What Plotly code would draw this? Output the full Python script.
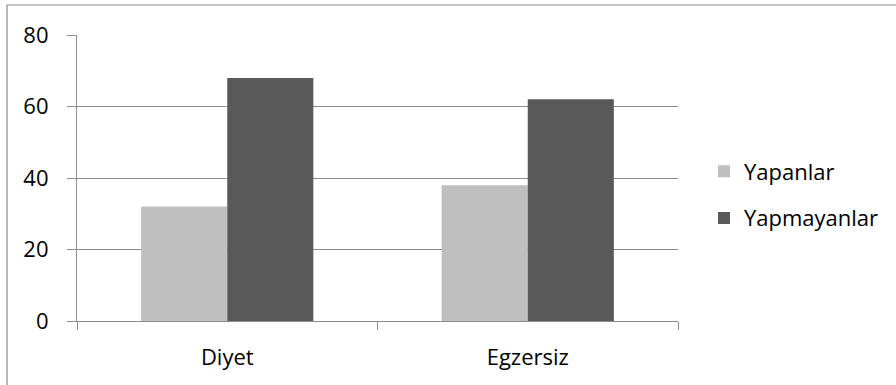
import plotly.graph_objects as go

# Survey results: share of people who do / do not follow each habit
categories = ["Diyet", "Egzersiz"]
yapanlar = [32, 38]
yapmayanlar = [68, 62]
y_ticks = [0, 20, 40, 60, 80]

W, H = 896, 385
L, R, T, B = 77, 218, 35, 64
plot_w = W - L - R
plot_h = H - T - B

grid_col = "#8c8c8c"
FS = 22
font = dict(family="'Open Sans', sans-serif", size=FS, color="#000000")

fig = go.Figure()
fig.add_trace(go.Bar(
    x=categories, y=yapanlar, name="Yapanlar",
    marker=dict(color="#bfbfbf", line=dict(width=0)),
    legendgroup="a",
))
fig.add_trace(go.Bar(
    x=categories, y=yapmayanlar, name="Yapmayanlar",
    marker=dict(color="#595959", line=dict(width=0)),
    legendgroup="b",
))

# outer chart frame (left and top edges are the visible ones)
fig.add_shape(
    type="rect", xref="paper", yref="paper",
    x0=(7 - L) / plot_w, x1=(W + 5 - L) / plot_w,
    y0=-(B + 5) / plot_h, y1=(H - 5 - B) / plot_h,
    line=dict(color=grid_col, width=1.2), fillcolor="rgba(0,0,0,0)",
    layer="below",
)

fig.update_layout(
    width=W, height=H,
    margin=dict(l=L, r=R, t=T, b=B),
    paper_bgcolor="white", plot_bgcolor="white",
    font=font,
    barmode="group", bargap=0.427, bargroupgap=0,
    showlegend=True,
    legend=dict(
        x=(704 - L) / plot_w, xanchor="left",
        y=(H - B - 195) / plot_h, yanchor="middle",
        font=dict(size=FS), tracegroupgap=15, traceorder="grouped",
        itemwidth=30,
    ),
    xaxis=dict(
        showline=True, linecolor=grid_col, linewidth=1.2,
        ticks="outside", tickson="boundaries", ticklen=8, tickcolor=grid_col,
        tickwidth=1.2, showgrid=False, tickfont=dict(size=FS),
        ticklabelstandoff=16,
    ),
    yaxis=dict(
        range=[0, 80], tickvals=y_ticks, showline=True, linecolor=grid_col,
        linewidth=1.2, ticks="outside", ticklen=9, tickcolor=grid_col,
        tickwidth=1.2, showgrid=True, gridcolor=grid_col, gridwidth=1.2,
        zeroline=False, tickfont=dict(size=FS), ticklabelstandoff=14,
    ),
)

fig.write_html("out.html")
